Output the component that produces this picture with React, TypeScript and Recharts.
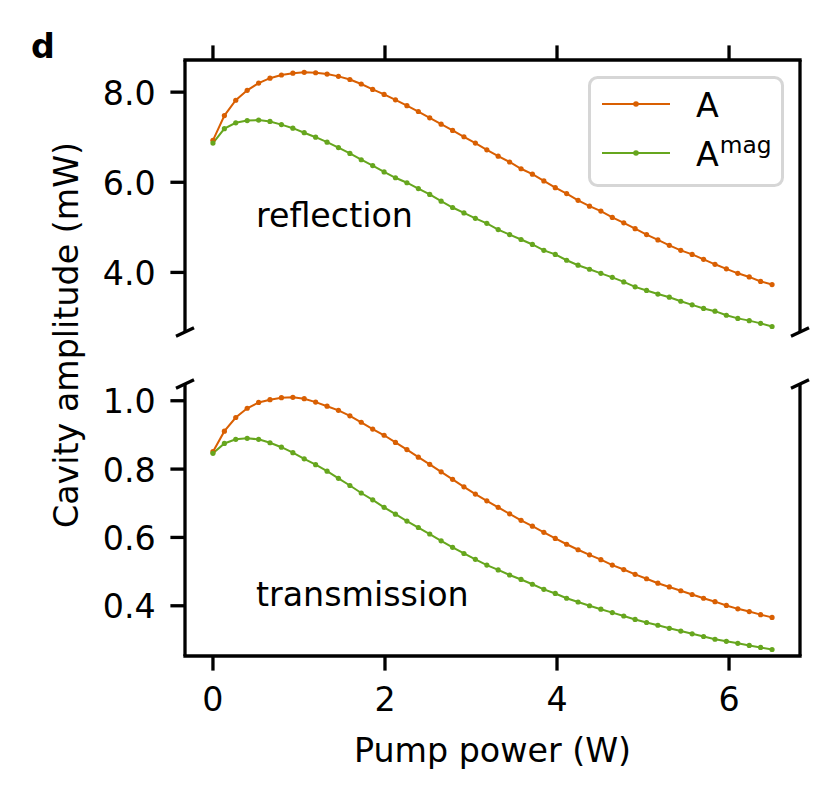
import React from "react";
import {
  LineChart,
  Line,
  XAxis,
  YAxis,
  Legend,
  ReferenceLine,
  ReferenceDot,
} from "recharts";

// pump power (W), 50 points from 0 to 6.5
const power = [
  0, 0.133, 0.265, 0.398, 0.531, 0.663, 0.796, 0.929, 1.061, 1.194,
  1.327, 1.459, 1.592, 1.724, 1.857, 1.99, 2.122, 2.255, 2.388, 2.52,
  2.653, 2.786, 2.918, 3.051, 3.184, 3.316, 3.449, 3.582, 3.714, 3.847,
  3.98, 4.112, 4.245, 4.378, 4.51, 4.643, 4.776, 4.908, 5.041, 5.173,
  5.306, 5.439, 5.571, 5.704, 5.837, 5.969, 6.102, 6.235, 6.367, 6.5,
];

// reflection, A (mW)
const reflA = [
  6.93, 7.48, 7.82, 8.04, 8.2, 8.31, 8.38, 8.42, 8.44, 8.43,
  8.4, 8.35, 8.28, 8.18, 8.06, 7.95, 7.83, 7.7, 7.57, 7.43,
  7.29, 7.15, 7.01, 6.87, 6.72, 6.58, 6.45, 6.3, 6.18, 6.03,
  5.88, 5.75, 5.6, 5.47, 5.36, 5.22, 5.1, 4.97, 4.84, 4.72,
  4.6, 4.49, 4.4, 4.29, 4.18, 4.08, 3.98, 3.9, 3.8, 3.73,
];

// reflection, A^mag (mW)
const reflMag = [
  6.87, 7.19, 7.32, 7.37, 7.38, 7.35, 7.28, 7.2, 7.1, 7.0,
  6.89, 6.77, 6.64, 6.5, 6.37, 6.23, 6.1, 5.99, 5.86, 5.73,
  5.58, 5.44, 5.32, 5.2, 5.09, 4.95, 4.84, 4.73, 4.62, 4.49,
  4.4, 4.27, 4.16, 4.07, 3.98, 3.89, 3.79, 3.68, 3.6, 3.52,
  3.45, 3.36, 3.28, 3.2, 3.14, 3.05, 2.98, 2.93, 2.87, 2.8,
];

// transmission, A (mW)
const transA = [
  0.851, 0.911, 0.951, 0.978, 0.995, 1.003, 1.009, 1.01, 1.006, 0.996,
  0.984, 0.972, 0.956, 0.937, 0.917, 0.899, 0.878, 0.857, 0.835, 0.814,
  0.792, 0.77, 0.748, 0.727, 0.707, 0.688, 0.669, 0.65, 0.633, 0.615,
  0.597, 0.58, 0.564, 0.549, 0.535, 0.519, 0.506, 0.492, 0.479, 0.466,
  0.455, 0.444, 0.433, 0.422, 0.412, 0.401, 0.391, 0.383, 0.374, 0.366,
];

// transmission, A^mag (mW)
const transMag = [
  0.846, 0.875, 0.887, 0.89, 0.887, 0.877, 0.864, 0.848, 0.83, 0.813,
  0.794, 0.773, 0.752, 0.73, 0.71, 0.688, 0.668, 0.648, 0.629, 0.61,
  0.59, 0.571, 0.553, 0.536, 0.519, 0.505, 0.49, 0.477, 0.463, 0.448,
  0.436, 0.422, 0.411, 0.4, 0.39, 0.38, 0.37, 0.36, 0.351, 0.343,
  0.334, 0.326, 0.318, 0.31, 0.302, 0.296, 0.29, 0.284, 0.278, 0.272,
];

const xTicks = [0, 2, 4, 6];
const reflTicks = [4, 6, 8];
const transTicks = [0.4, 0.6, 0.8, 1.0];

const xDomain = [-0.325, 6.825];
const reflDomain = [2.678, 8.713];
const transDomain = [0.253, 1.049];

const ORANGE = "#d95f02";
const GREEN = "#66a61e";
const FONT = "'DejaVu Sans', sans-serif";
const FS = 33.3;
const LW = 3.3;
const TICK = 14.6;

const reflData = power.map((x, i) => ({ x, a: reflA[i], m: reflMag[i] }));
const transData = power.map((x, i) => ({ x, a: transA[i], m: transMag[i] }));

const YTick = (props: any) => {
  const { x, y, payload } = props;
  return (
    <text x={x - 14.6} y={y} dy={12.5} textAnchor="end" fontFamily={FONT} fontSize={FS} fill="#000">
      {payload.value.toFixed(1)}
    </text>
  );
};

const XTick = (props: any) => {
  const { x, y, payload } = props;
  return (
    <text x={x} y={y} dy={40.4} textAnchor="middle" fontFamily={FONT} fontSize={FS} fill="#000">
      {payload.value}
    </text>
  );
};

// little diagonal marks where the axis is broken
const BreakMark = (props: any) => {
  const { cx, cy } = props;
  return <line x1={cx - 9} y1={cy + 4.2} x2={cx + 9} y2={cy - 4.2} stroke="#000" strokeWidth={LW} />;
};

const panelText = (label: string) => (props: any) => (
  <text x={props.cx} y={props.cy} fontFamily={FONT} fontSize={FS} fill="#000">
    {label}
  </text>
);

const LegendBox = (props: any) => {
  const items = props.payload || [];
  return (
    <svg width={197} height={111} style={{ display: "block" }}>
      <rect x={1.5} y={1.5} width={193} height={108} rx={8} fill="#fff" fillOpacity={0.8} stroke="#d6d6d6" strokeWidth={3} />
      {items.map((it: any, i: number) => {
        const cy = 28 + i * 49;
        const name = String(it.value);
        const [base, sup] = name.split("^");
        return (
          <g key={name}>
            <line x1={14} x2={82} y1={cy} y2={cy} stroke={it.color} strokeWidth={2} />
            <circle cx={48} cy={cy} r={2.8} fill={it.color} />
            <text x={108} y={cy + 12.5} fontFamily={FONT} fontSize={FS} fill="#000">
              {base}
              {sup && (
                <tspan dx={1} dy={-13} fontSize={23.3}>
                  {sup}
                </tspan>
              )}
            </text>
          </g>
        );
      })}
    </svg>
  );
};

const axisStroke = { stroke: "#000", strokeWidth: LW };

export default function App() {
  return (
    <div style={{ position: "absolute", left: 0, top: 0, width: 837, height: 798, background: "#fff" }}>
      <div style={{ position: "absolute", left: 0, top: 0 }}>
        <LineChart width={837} height={345} data={reflData} margin={{ top: 40, right: 37, bottom: 13, left: 125 }}>
          <XAxis
            dataKey="x"
            type="number"
            orientation="top"
            domain={xDomain}
            allowDataOverflow
            ticks={xTicks}
            height={20}
            tickSize={TICK}
            tickMargin={0}
            tick={() => <g />}
            axisLine={{ ...axisStroke, strokeLinecap: "square" }}
            tickLine={axisStroke}
          />
          <YAxis
            type="number"
            domain={reflDomain}
            allowDataOverflow
            ticks={reflTicks}
            width={60}
            tickSize={TICK}
            tickMargin={0}
            tick={<YTick />}
            axisLine={axisStroke}
            tickLine={axisStroke}
          />
          <ReferenceLine x={xDomain[1]} stroke="#000" strokeWidth={LW} />
          <ReferenceDot x={xDomain[0]} y={reflDomain[0]} ifOverflow="visible" shape={BreakMark} />
          <ReferenceDot x={xDomain[1]} y={reflDomain[0]} ifOverflow="visible" shape={BreakMark} />
          <ReferenceDot x={0.5} y={5.0} ifOverflow="visible" shape={panelText("reflection")} />
          <Line
            dataKey="a"
            name="A"
            type="linear"
            stroke={ORANGE}
            strokeWidth={2}
            dot={{ r: 2.6, fill: ORANGE, stroke: "none", strokeWidth: 0 }}
            activeDot={false}
            isAnimationActive={false}
          />
          <Line
            dataKey="m"
            name="A^mag"
            type="linear"
            stroke={GREEN}
            strokeWidth={2}
            dot={{ r: 2.6, fill: GREEN, stroke: "none", strokeWidth: 0 }}
            activeDot={false}
            isAnimationActive={false}
          />
          <Legend
            layout="horizontal"
            verticalAlign="middle"
            align="center"
            width={197}
            height={111}
            wrapperStyle={{ left: 588, top: 76, width: 197, height: 111 }}
            content={<LegendBox />}
          />
        </LineChart>
      </div>

      <div style={{ position: "absolute", left: 0, top: 0 }}>
        <LineChart width={837} height={798} data={transData} margin={{ top: 384, right: 37, bottom: 42, left: 125 }}>
          <XAxis
            dataKey="x"
            type="number"
            domain={xDomain}
            allowDataOverflow
            ticks={xTicks}
            height={100}
            tickSize={TICK}
            tickMargin={0}
            tick={<XTick />}
            axisLine={{ ...axisStroke, strokeLinecap: "square" }}
            tickLine={axisStroke}
            label={{ value: "Pump power (W)", position: "insideTop", offset: 82, fontFamily: FONT, fontSize: FS, fill: "#000" }}
          />
          <YAxis
            type="number"
            domain={transDomain}
            allowDataOverflow
            ticks={transTicks}
            width={60}
            tickSize={TICK}
            tickMargin={0}
            tick={<YTick />}
            axisLine={axisStroke}
            tickLine={axisStroke}
          />
          <ReferenceLine x={xDomain[1]} stroke="#000" strokeWidth={LW} />
          <ReferenceDot x={xDomain[0]} y={transDomain[1]} ifOverflow="visible" shape={BreakMark} />
          <ReferenceDot x={xDomain[1]} y={transDomain[1]} ifOverflow="visible" shape={BreakMark} />
          <ReferenceDot x={0.5} y={0.4} ifOverflow="visible" shape={panelText("transmission")} />
          <Line
            dataKey="a"
            name="A"
            type="linear"
            stroke={ORANGE}
            strokeWidth={2}
            dot={{ r: 2.6, fill: ORANGE, stroke: "none", strokeWidth: 0 }}
            activeDot={false}
            isAnimationActive={false}
          />
          <Line
            dataKey="m"
            name="A^mag"
            type="linear"
            stroke={GREEN}
            strokeWidth={2}
            dot={{ r: 2.6, fill: GREEN, stroke: "none", strokeWidth: 0 }}
            activeDot={false}
            isAnimationActive={false}
          />
        </LineChart>
      </div>

      <svg width={837} height={798} style={{ position: "absolute", left: 0, top: 0, pointerEvents: "none" }}>
        <text x={31} y={58} fontFamily={FONT} fontSize={FS} fontWeight="bold" fill="#000">
          d
        </text>
        <text
          x={78}
          y={335}
          transform="rotate(-90, 78, 335)"
          textAnchor="middle"
          fontFamily={FONT}
          fontSize={FS}
          fill="#000"
        >
          Cavity amplitude (mW)
        </text>
      </svg>
    </div>
  );
}
